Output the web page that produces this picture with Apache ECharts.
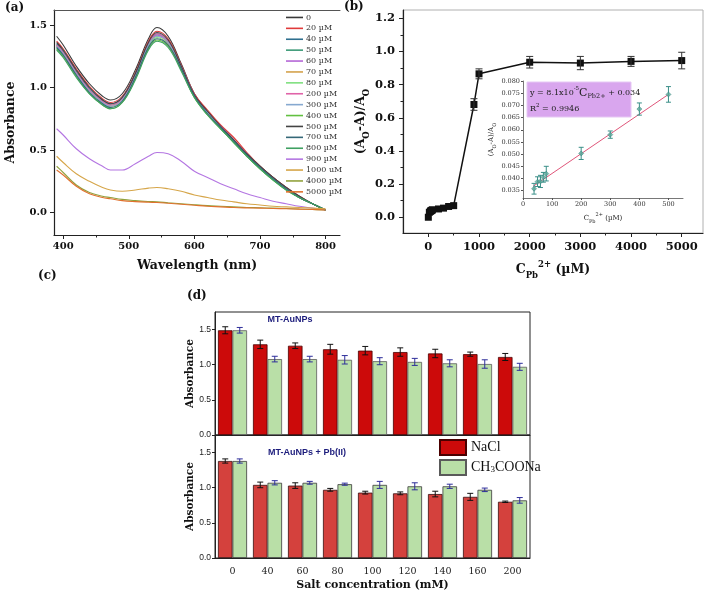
<!DOCTYPE html>
<html><head><meta charset="utf-8">
<script src="https://cdn.jsdelivr.net/npm/echarts@6.0.0/dist/echarts.min.js"></script>
<style>html,body{margin:0;padding:0;background:#fff}#c{width:709px;height:597px}</style>
</head><body><div id="c"></div>
<script>
// ---------- Panel (a): UV-vis spectra ----------
const wavelengths = [390,400,420,440,460,472,490,510,530,543,560,580,600,620,640,660,680,700,720,740,760,780,800];
const spectraNames = ['0','20 µM','40 µM','50 µM','60 µM','70 µM','80 µM','200 µM','300 µM','400 uM','500 µM','700 uM','800 µM','900 µM','1000 uM','4000 µM','5000 µM'];
const spectraColors = ['#3a3a3a','#e03a3a','#2f6f8f','#3d9a78','#b466d6','#d4a24c','#7fe07f','#e063a8','#86a9d0','#62c040','#444444','#356878','#3fa062','#b476e2','#d6a64a','#92a23e','#e0712e'];
const spec0    = [1.41,1.34,1.17,1.03,0.93,0.90,0.95,1.14,1.39,1.48,1.41,1.19,0.95,0.81,0.69,0.58,0.47,0.37,0.28,0.20,0.13,0.07,0.02];
const spec20   = [1.37,1.31,1.15,1.01,0.91,0.88,0.93,1.12,1.37,1.45,1.39,1.18,0.95,0.82,0.70,0.60,0.48,0.37,0.28,0.20,0.13,0.07,0.02];
const spec40   = [1.35,1.29,1.13,0.99,0.90,0.87,0.92,1.11,1.35,1.43,1.37,1.17,0.94,0.80,0.69,0.58,0.46,0.36,0.27,0.19,0.12,0.07,0.02];
const spec50   = [1.34,1.28,1.12,0.98,0.89,0.86,0.91,1.10,1.34,1.42,1.36,1.16,0.93,0.80,0.68,0.57,0.46,0.36,0.27,0.19,0.12,0.07,0.02];
const spec60   = [1.33,1.27,1.11,0.97,0.88,0.85,0.90,1.10,1.34,1.42,1.36,1.16,0.93,0.79,0.68,0.57,0.46,0.36,0.27,0.19,0.12,0.07,0.02];
const spec70   = [1.33,1.27,1.11,0.97,0.88,0.85,0.90,1.09,1.33,1.41,1.35,1.15,0.93,0.79,0.68,0.57,0.46,0.36,0.27,0.19,0.12,0.07,0.02];
const spec80   = [1.32,1.26,1.10,0.96,0.87,0.84,0.89,1.08,1.32,1.40,1.34,1.15,0.92,0.79,0.67,0.56,0.45,0.35,0.26,0.19,0.12,0.07,0.02];
const spec200  = [1.34,1.28,1.12,0.98,0.89,0.86,0.91,1.10,1.35,1.43,1.37,1.17,0.94,0.80,0.69,0.58,0.47,0.36,0.27,0.19,0.12,0.07,0.02];
const spec300  = [1.33,1.27,1.11,0.97,0.88,0.85,0.90,1.09,1.34,1.41,1.36,1.16,0.93,0.80,0.68,0.57,0.46,0.36,0.27,0.19,0.12,0.07,0.02];
const spec400  = [1.31,1.25,1.09,0.95,0.86,0.83,0.88,1.07,1.31,1.38,1.33,1.14,0.92,0.78,0.67,0.56,0.45,0.35,0.26,0.18,0.12,0.07,0.02];
const spec500  = [1.36,1.30,1.14,1.00,0.90,0.87,0.92,1.11,1.36,1.44,1.38,1.17,0.94,0.81,0.69,0.58,0.47,0.37,0.28,0.20,0.13,0.07,0.02];
const spec700  = [1.32,1.26,1.10,0.96,0.87,0.84,0.89,1.08,1.32,1.39,1.34,1.15,0.93,0.79,0.68,0.57,0.46,0.36,0.27,0.19,0.12,0.07,0.02];
const spec800  = [1.30,1.24,1.08,0.95,0.86,0.83,0.88,1.06,1.30,1.37,1.32,1.13,0.92,0.78,0.67,0.56,0.45,0.35,0.26,0.18,0.12,0.07,0.02];
const spec900  = [0.67,0.62,0.51,0.43,0.37,0.34,0.34,0.39,0.45,0.48,0.47,0.41,0.33,0.28,0.23,0.19,0.15,0.12,0.09,0.07,0.05,0.035,0.02];
const spec1000 = [0.45,0.40,0.31,0.25,0.20,0.18,0.17,0.18,0.195,0.20,0.19,0.17,0.14,0.12,0.10,0.085,0.07,0.06,0.05,0.045,0.04,0.035,0.03];
const spec4000 = [0.37,0.32,0.22,0.16,0.13,0.12,0.105,0.095,0.088,0.085,0.078,0.07,0.062,0.055,0.05,0.045,0.04,0.038,0.035,0.032,0.028,0.024,0.02];
const spec5000 = [0.34,0.30,0.21,0.15,0.12,0.11,0.095,0.087,0.082,0.08,0.074,0.066,0.058,0.05,0.045,0.04,0.037,0.035,0.032,0.03,0.027,0.024,0.02];
const spectraValues = [spec0,spec20,spec40,spec50,spec60,spec70,spec80,spec200,spec300,spec400,spec500,spec700,spec800,spec900,spec1000,spec4000,spec5000];
const aXTicks = [400,500,600,700,800];
const aXMinor = [450,550,650,750];
const aYTicks = [0,0.5,1.0,1.5];

// ---------- Panel (b): response curve ----------
const concB  = [0,20,40,50,60,70,80,200,300,400,500,900,1000,2000,3000,4000,5000];
const ratioB = [0.0,0.03,0.035,0.04,0.04,0.042,0.045,0.05,0.055,0.065,0.07,0.68,0.865,0.935,0.93,0.94,0.945];
const errB   = [0,0,0,0,0,0,0,0,0,0,0,0.035,0.03,0.035,0.04,0.03,0.05];
const bXTicks = [0,1000,2000,3000,4000,5000];
const bXMinor = [500,1500,2500,3500,4500];
const bYTicks = [0,0.2,0.4,0.6,0.8,1.0,1.2];
const bYMinor = [0.1,0.3,0.5,0.7,0.9,1.1];

// ---------- Panel (b) inset: linear range ----------
const concIn  = [38,50,60,70,80,200,300,400,500];
const ratioIn = [0.0358,0.0387,0.0388,0.0405,0.0420,0.0503,0.0580,0.0685,0.0745];
const errIn   = [0.0022,0.0020,0.0025,0.0020,0.0030,0.0025,0.0015,0.0025,0.0032];
const fitX = [35,500];
const fitY = [0.0368,0.0745];
const inXTicks = [0,100,200,300,400,500];
const inYTicks = [0.035,0.040,0.045,0.050,0.055,0.060,0.065,0.070,0.075,0.080];

// ---------- Panel (d): salt stability ----------
const saltConc = ['0','40','60','80','100','120','140','160','200'];
const topNaCl  = [1.49,1.29,1.27,1.22,1.20,1.18,1.16,1.15,1.11];
const topNaClErr = [0.05,0.06,0.04,0.07,0.06,0.06,0.06,0.03,0.05];
const topAc    = [1.49,1.08,1.08,1.07,1.05,1.04,1.02,1.01,0.97];
const topAcErr = [0.04,0.04,0.04,0.06,0.05,0.05,0.05,0.06,0.05];
const botNaCl  = [1.38,1.04,1.03,0.97,0.93,0.92,0.91,0.87,0.80];
const botNaClErr = [0.03,0.04,0.04,0.02,0.02,0.02,0.04,0.05,0.01];
const botAc    = [1.38,1.07,1.07,1.05,1.04,1.02,1.02,0.97,0.82];
const botAcErr = [0.03,0.03,0.02,0.015,0.05,0.05,0.03,0.025,0.04];

const SERIF = 'DejaVu Serif';
const SANS = 'Liberation Sans';

function errRender(offsetFrac, color, cap) {
  return function (params, api) {
    const xv = api.value(0), lo = api.value(1), hi = api.value(2);
    if (hi - lo <= 0) return null;
    const p1 = api.coord([xv, lo]), p2 = api.coord([xv, hi]);
    const bw = offsetFrac ? api.size([1, 0])[0] : 0;
    const x = p1[0] + offsetFrac * bw;
    const st = { stroke: color, lineWidth: 1 };
    return { type: 'group', children: [
      { type: 'line', shape: { x1: x, y1: p1[1], x2: x, y2: p2[1] }, style: st },
      { type: 'line', shape: { x1: x - cap, y1: p1[1], x2: x + cap, y2: p1[1] }, style: st },
      { type: 'line', shape: { x1: x - cap, y1: p2[1], x2: x + cap, y2: p2[1] }, style: st }
    ]};
  };
}
function errData(xs, ys, es) { return xs.map((x, i) => [x, ys[i] - es[i], ys[i] + es[i]]); }
function idxErr(ys, es) { return ys.map((y, i) => [i, y - es[i], y + es[i]]); }

const subRich = {
  b: { fontFamily: SERIF, fontWeight: 'bold', fontSize: 12.5, lineHeight: 20, color: '#111' },
  s: { fontFamily: SERIF, fontWeight: 'bold', fontSize: 8.5, lineHeight: 12, verticalAlign: 'bottom', color: '#111' },
  p: { fontFamily: SERIF, fontWeight: 'bold', fontSize: 8.5, lineHeight: 12, verticalAlign: 'top', color: '#111' }
};
const subRichSmall = {
  b: { fontFamily: SERIF, fontSize: 7, lineHeight: 12, color: '#222' },
  s: { fontFamily: SERIF, fontSize: 5, lineHeight: 7, verticalAlign: 'bottom', color: '#222' },
  p: { fontFamily: SERIF, fontSize: 5, lineHeight: 7, verticalAlign: 'top', color: '#222' }
};

const series = [];
spectraNames.forEach((n, k) => {
  series.push({
    name: n, type: 'line', xAxisIndex: 0, yAxisIndex: 0, smooth: 0.4, showSymbol: false,
    lineStyle: { width: 1.1, color: spectraColors[k] }, itemStyle: { color: spectraColors[k] },
    data: wavelengths.map((w, i) => [w, spectraValues[k][i]]), z: 2
  });
});
// panel b
series.push({
  name: 'responseB', type: 'line', xAxisIndex: 3, yAxisIndex: 1, symbol: 'rect', symbolSize: 7,
  lineStyle: { color: '#111', width: 1.5 }, itemStyle: { color: '#111' },
  data: concB.map((c, i) => [c, ratioB[i]]), z: 3
});
series.push({
  name: 'responseBErr', type: 'custom', xAxisIndex: 3, yAxisIndex: 1,
  renderItem: errRender(0, '#333', 3.5), data: errData(concB, ratioB, errB), encode: { x: 0, y: [1, 2] }, z: 4
});
// inset
series.push({
  name: 'fit', type: 'line', xAxisIndex: 5, yAxisIndex: 3, showSymbol: false,
  lineStyle: { color: '#e0567a', width: 1 }, data: fitX.map((x, i) => [x, fitY[i]]), z: 5
});
series.push({
  name: 'insetPts', type: 'scatter', xAxisIndex: 5, yAxisIndex: 3, symbol: 'diamond', symbolSize: 5,
  itemStyle: { color: '#5aa89a', borderColor: '#2f7f78', borderWidth: 0.6 },
  data: concIn.map((c, i) => [c, ratioIn[i]]), z: 6
});
series.push({
  name: 'insetErr', type: 'custom', xAxisIndex: 5, yAxisIndex: 3,
  renderItem: errRender(0, '#3a8f88', 2.5), data: errData(concIn, ratioIn, errIn), encode: { x: 0, y: [1, 2] }, z: 6
});
// panel d top
series.push({ name: 'NaCl', type: 'bar', xAxisIndex: 6, yAxisIndex: 4, barGap: '0%', barCategoryGap: '17%',
  itemStyle: { color: '#cc0a0a', borderColor: '#4a0000', borderWidth: 0.8 }, data: topNaCl });
series.push({ name: 'CH3COONa', type: 'bar', xAxisIndex: 6, yAxisIndex: 4, barGap: '0%', barCategoryGap: '17%',
  itemStyle: { color: '#b9dfa7', borderColor: '#5a5a5a', borderWidth: 0.8 }, data: topAc });
series.push({ name: 'eTopN', type: 'custom', xAxisIndex: 6, yAxisIndex: 4, renderItem: errRender(-0.2075, '#111', 3),
  data: idxErr(topNaCl, topNaClErr), encode: { x: 0, y: [1, 2] }, z: 5 });
series.push({ name: 'eTopA', type: 'custom', xAxisIndex: 6, yAxisIndex: 4, renderItem: errRender(0.2075, '#2e2e9a', 3),
  data: idxErr(topAc, topAcErr), encode: { x: 0, y: [1, 2] }, z: 5 });
// panel d bottom
series.push({ name: 'NaCl', type: 'bar', xAxisIndex: 7, yAxisIndex: 5, barGap: '0%', barCategoryGap: '17%',
  itemStyle: { color: '#d4413d', borderColor: '#3a1010', borderWidth: 0.8 }, data: botNaCl });
series.push({ name: 'CH3COONa', type: 'bar', xAxisIndex: 7, yAxisIndex: 5, barGap: '0%', barCategoryGap: '17%',
  itemStyle: { color: '#b9dfa7', borderColor: '#3a3a3a', borderWidth: 0.8 }, data: botAc });
series.push({ name: 'eBotN', type: 'custom', xAxisIndex: 7, yAxisIndex: 5, renderItem: errRender(-0.2075, '#111', 3),
  data: idxErr(botNaCl, botNaClErr), encode: { x: 0, y: [1, 2] }, z: 5 });
series.push({ name: 'eBotA', type: 'custom', xAxisIndex: 7, yAxisIndex: 5, renderItem: errRender(0.2075, '#2e2e9a', 3),
  data: idxErr(botAc, botAcErr), encode: { x: 0, y: [1, 2] }, z: 5 });

const noSplit = { show: false };
const boldTick = (fs) => ({ fontFamily: SERIF, fontWeight: 'bold', fontSize: fs, color: '#111' });
const plain = v => String(v);

const option = {
  animation: false,
  backgroundColor: '#fff',
  grid: [
    { left: 54, top: 10, width: 286, height: 225 },
    { left: 403, top: 10, width: 300, height: 223, show: true, borderColor: '#b0b0b0', borderWidth: 1 },
    { left: 523, top: 81, width: 160, height: 117 },
    { left: 215, top: 312, width: 315, height: 123, show: true, borderColor: '#222', borderWidth: 1 },
    { left: 215, top: 435, width: 315, height: 123, show: true, borderColor: '#222', borderWidth: 1 }
  ],
  xAxis: [
    // 0 (a) main
    { gridIndex: 0, type: 'value', position: 'bottom', min: 386, max: 822, splitLine: noSplit,
      axisLine: { onZero: false, lineStyle: { color: '#222', width: 1.2 } },
      axisTick: { customValues: aXTicks, length: 4, lineStyle: { color: '#222' } },
      axisLabel: Object.assign({ customValues: aXTicks, margin: 6, formatter: plain }, boldTick(10)),
      name: 'Wavelength (nm)', nameLocation: 'middle', nameGap: 24,
      nameTextStyle: { fontFamily: SERIF, fontWeight: 'bold', fontSize: 12.5, color: '#111' } },
    // 1 (a) minor
    { gridIndex: 0, type: 'value', position: 'bottom', min: 386, max: 822, splitLine: noSplit,
      axisLine: { show: false, onZero: false },
      axisTick: { customValues: aXMinor, length: 2.5, lineStyle: { color: '#222' } }, axisLabel: { show: false } },
    // 2 (a) top frame
    { gridIndex: 0, type: 'value', position: 'top', min: 386, max: 822, splitLine: noSplit,
      axisLine: { onZero: false, lineStyle: { color: '#555' } }, axisTick: { show: false }, axisLabel: { show: false } },
    // 3 (b) main
    { gridIndex: 1, type: 'value', position: 'bottom', min: -500, max: 5420, splitLine: noSplit,
      axisLine: { onZero: false, lineStyle: { color: '#222', width: 1.2 } },
      axisTick: { customValues: bXTicks, length: 4, lineStyle: { color: '#222' } },
      axisLabel: Object.assign({ customValues: bXTicks, margin: 8, formatter: plain }, boldTick(11.5)),
      name: '{b|C}{s|Pb}{p|2+}{b| (µM)}', nameLocation: 'middle', nameGap: 27,
      nameTextStyle: { rich: subRich } },
    // 4 (b) minor
    { gridIndex: 1, type: 'value', position: 'bottom', min: -500, max: 5420, splitLine: noSplit,
      axisLine: { show: false, onZero: false },
      axisTick: { customValues: bXMinor, length: 2.5, lineStyle: { color: '#222' } }, axisLabel: { show: false } },
    // 5 inset
    { gridIndex: 2, type: 'value', position: 'bottom', min: 0, max: 550, splitLine: noSplit,
      axisLine: { onZero: false, lineStyle: { color: '#555', width: 0.8 } },
      axisTick: { customValues: inXTicks, length: 2, lineStyle: { color: '#555' } },
      axisLabel: { customValues: inXTicks, fontFamily: SERIF, fontSize: 6.5, color: '#333', margin: 3, formatter: plain },
      name: '{b|C}{s|Pb}{p|2+}{b| (µM)}', nameLocation: 'middle', nameGap: 14,
      nameTextStyle: { rich: subRichSmall } },
    // 6 (d) top
    { gridIndex: 3, type: 'category', position: 'bottom', data: saltConc, axisLine: { lineStyle: { color: '#222' } },
      axisTick: { show: false }, axisLabel: { show: false } },
    // 7 (d) bottom
    { gridIndex: 4, type: 'category', position: 'bottom', data: saltConc, axisLine: { lineStyle: { color: '#222' } },
      axisTick: { show: false },
      axisLabel: { fontFamily: SERIF, fontSize: 9.5, color: '#222', margin: 9 },
      name: 'Salt concentration (mM)', nameLocation: 'middle', nameGap: 22,
      nameTextStyle: { fontFamily: SERIF, fontWeight: 'bold', fontSize: 11, color: '#111' } }
  ],
  yAxis: [
    // 0 (a)
    { gridIndex: 0, type: 'value', position: 'left', min: -0.18, max: 1.62, splitLine: noSplit,
      axisLine: { onZero: false, lineStyle: { color: '#222', width: 1.2 } },
      axisTick: { customValues: aYTicks, length: 4, lineStyle: { color: '#222' } },
      axisLabel: Object.assign({ customValues: aYTicks, margin: 7, formatter: v => v.toFixed(1) }, boldTick(10)),
      name: 'Absorbance', nameLocation: 'middle', nameGap: 37,
      nameTextStyle: { fontFamily: SERIF, fontWeight: 'bold', fontSize: 12.5, color: '#111' } },
    // 1 (b) main
    { gridIndex: 1, type: 'value', position: 'left', min: -0.095, max: 1.25, splitLine: noSplit,
      axisLine: { onZero: false, lineStyle: { color: '#222', width: 1.2 } },
      axisTick: { customValues: bYTicks, length: 4, lineStyle: { color: '#222' } },
      axisLabel: Object.assign({ customValues: bYTicks, margin: 8, formatter: v => v.toFixed(1) }, boldTick(11.5)),
      name: '(A{s|O}-A)/A{s|O}', nameLocation: 'middle', nameGap: 30,
      nameTextStyle: { fontFamily: SERIF, fontWeight: 'bold', fontSize: 12.5, lineHeight: 20, color: '#111', rich: subRich } },
    // 2 (b) minor
    { gridIndex: 1, type: 'value', position: 'left', min: -0.095, max: 1.25, splitLine: noSplit,
      axisLine: { show: false, onZero: false },
      axisTick: { customValues: bYMinor, length: 2.5, lineStyle: { color: '#222' } }, axisLabel: { show: false } },
    // 3 inset
    { gridIndex: 2, type: 'value', position: 'left', min: 0.032, max: 0.080, splitLine: noSplit,
      axisLine: { onZero: false, lineStyle: { color: '#555', width: 0.8 } },
      axisTick: { customValues: inYTicks, length: 2, lineStyle: { color: '#555' } },
      axisLabel: { customValues: inYTicks, fontFamily: SERIF, fontSize: 6.5, color: '#333', margin: 3, formatter: v => v.toFixed(3) },
      name: '(A{s|O}-A)/A{s|O}', nameLocation: 'middle', nameGap: 26,
      nameTextStyle: { fontFamily: SERIF, fontSize: 7, lineHeight: 12, color: '#222', rich: subRichSmall } },
    // 4 (d) top
    { gridIndex: 3, type: 'value', position: 'left', min: 0, max: 1.75, interval: 0.5, splitLine: noSplit,
      axisLine: { show: true, lineStyle: { color: '#222' } },
      axisTick: { show: true, length: 3, lineStyle: { color: '#222' } },
      axisLabel: { fontFamily: SANS, fontSize: 8.5, color: '#222', margin: 4, formatter: v => v.toFixed(1),
        showMaxLabel: false },
      name: 'Absorbance', nameLocation: 'middle', nameGap: 19,
      nameTextStyle: { fontFamily: SERIF, fontWeight: 'bold', fontSize: 10.5, color: '#111' } },
    // 5 (d) bottom
    { gridIndex: 4, type: 'value', position: 'left', min: 0, max: 1.75, interval: 0.5, splitLine: noSplit,
      axisLine: { show: true, lineStyle: { color: '#222' } },
      axisTick: { show: true, length: 3, lineStyle: { color: '#222' } },
      axisLabel: { fontFamily: SANS, fontSize: 8.5, color: '#222', margin: 4, formatter: v => v.toFixed(1),
        showMaxLabel: false },
      name: 'Absorbance', nameLocation: 'middle', nameGap: 19,
      nameTextStyle: { fontFamily: SERIF, fontWeight: 'bold', fontSize: 10.5, color: '#111' } }
  ],
  legend: [
    { data: spectraNames, orient: 'vertical', left: 286, top: 12, padding: 0, itemGap: 0,
      itemWidth: 17, itemHeight: 1.6, icon: 'rect', selectedMode: false,
      textStyle: { fontFamily: SERIF, fontSize: 8, lineHeight: 10.9, color: '#333', padding: [0, 0, 0, -2] } },
    { data: ['NaCl', 'CH3COONa'], orient: 'vertical', left: 439, top: 439, padding: 0, itemGap: 3,
      itemWidth: 26, itemHeight: 15, icon: 'rect', selectedMode: false,
      formatter: n => n === 'CH3COONa' ? 'CH{s|3}COONa' : n,
      textStyle: { fontFamily: 'Liberation Serif', fontSize: 14, color: '#111',
        rich: { s: { fontFamily: 'Liberation Serif', fontSize: 9, verticalAlign: 'bottom', lineHeight: 8, color: '#111' } } } }
  ],
  graphic: [
    { type: 'text', left: 5, top: 2, style: { text: '(a)', font: 'bold 12px "DejaVu Serif"', fill: '#111' } },
    { type: 'text', left: 344, top: 1, style: { text: '(b)', font: 'bold 12px "DejaVu Serif"', fill: '#111' } },
    { type: 'text', left: 38, top: 270, style: { text: '(c)', font: 'bold 12px "DejaVu Serif"', fill: '#111' } },
    { type: 'text', left: 187, top: 290, style: { text: '(d)', font: 'bold 12px "DejaVu Serif"', fill: '#111' } },
    { type: 'rect', shape: { x: 527, y: 82, width: 104, height: 35 }, style: { fill: '#d9a6ee', stroke: '#e6c8f4', lineWidth: 1 }, z: 10 },
    { type: 'text', x: 530, y: 86, z: 11, style: {
        text: '{t|y = 8.1x10}{p|-5}{c|C}{s|Pb2+}{t| + 0.034}',
        rich: {
          t: { fontFamily: SERIF, fontSize: 8, lineHeight: 14, fill: '#222' },
          c: { fontFamily: SERIF, fontSize: 11, lineHeight: 14, fill: '#222' },
          p: { fontFamily: SERIF, fontSize: 5.5, lineHeight: 8, verticalAlign: 'top', fill: '#222' },
          s: { fontFamily: SERIF, fontSize: 6.5, lineHeight: 8, verticalAlign: 'bottom', fill: '#222' }
        } } },
    { type: 'text', x: 530, y: 103, z: 11, style: {
        text: '{t|R}{p|2}{t| = 0.9946}',
        rich: {
          t: { fontFamily: SERIF, fontSize: 8, lineHeight: 12, fill: '#222' },
          p: { fontFamily: SERIF, fontSize: 5.5, lineHeight: 8, verticalAlign: 'top', fill: '#222' }
        } } },
    { type: 'text', x: 290, y: 320, z: 11, style: { text: 'MT-AuNPs', font: 'bold 9px "Liberation Sans"', fill: '#1c1c7c', align: 'center', verticalAlign: 'middle' } },
    { type: 'text', x: 307, y: 453, z: 11, style: { text: 'MT-AuNPs + Pb(II)', font: 'bold 9px "Liberation Sans"', fill: '#1c1c7c', align: 'center', verticalAlign: 'middle' } }
  ],
  series: series
};

const chart = echarts.init(document.getElementById('c'));
chart.setOption(option);
</script>
</body></html>
